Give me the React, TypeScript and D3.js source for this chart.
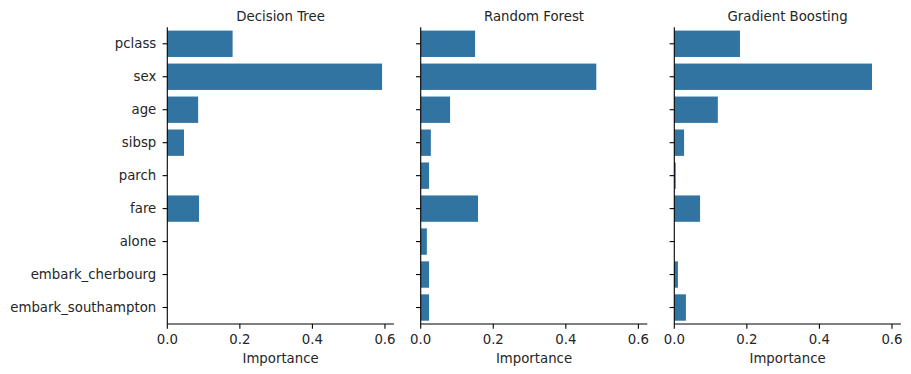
import React from "react";
import * as d3 from "d3";

const features = [
  "pclass",
  "sex",
  "age",
  "sibsp",
  "parch",
  "fare",
  "alone",
  "embark_cherbourg",
  "embark_southampton",
];

const modelNames = ["Decision Tree", "Random Forest", "Gradient Boosting"];

const decisionTree = [0.18, 0.592, 0.085, 0.046, 0.0, 0.0875, 0.0, 0.0, 0.0];
const randomForest = [0.15, 0.484, 0.081, 0.028, 0.023, 0.158, 0.017, 0.023, 0.023];
const gradientBoosting = [0.181, 0.545, 0.12, 0.027, 0.004, 0.071, 0.0, 0.01, 0.032];

const xTicks = [0, 0.2, 0.4, 0.6];
const xLabel = "Importance";

const seriesList = [decisionTree, randomForest, gradientBoosting];

const W = 911;
const H = 374;
const panelLefts = [167.3, 420.7, 674.3];
const panelWidth = 226.6;
const top = 27.3;
const bottom = 324;
const xMax = 0.6246;
const barColor = "#3274a1";
const textColor = "#262626";
const font = "DejaVu Sans, sans-serif";
const fs = 13.3;

export default function App() {
  const y = d3
    .scaleBand<string>()
    .domain(features)
    .range([top, bottom])
    .paddingInner(0.2)
    .paddingOuter(0.1);

  return (
    <svg
      width={W}
      height={H}
      style={{ position: "absolute", left: 0, top: 0, background: "#fff" }}
      fontFamily={font}
    >
      <rect x={0} y={0} width={W} height={H} fill="#fff" />
      {seriesList.map((vals, pi) => {
        const left = panelLefts[pi];
        const x = d3.scaleLinear().domain([0, xMax]).range([left, left + panelWidth]);
        return (
          <g key={pi}>
            {vals.map((v, i) =>
              v > 0 ? (
                <rect
                  key={i}
                  x={x(0)}
                  y={y(features[i])!}
                  width={x(v) - x(0)}
                  height={y.bandwidth()}
                  fill={barColor}
                />
              ) : null
            )}
            <text
              x={left + panelWidth / 2}
              y={16}
              textAnchor="middle"
              dominantBaseline="central"
              fontSize={fs}
              fill={textColor}
            >
              {modelNames[pi]}
            </text>
            <line x1={left} x2={left} y1={top} y2={bottom} stroke="#000" strokeWidth={1.1} />
            <line
              x1={left}
              x2={left + panelWidth}
              y1={bottom}
              y2={bottom}
              stroke="#000"
              strokeWidth={1.1}
            />
            {features.map((f) => {
              const cy = y(f)! + y.bandwidth() / 2;
              return (
                <g key={f}>
                  <line x1={left - 4.7} x2={left} y1={cy} y2={cy} stroke="#000" strokeWidth={1.1} />
                  {pi === 0 ? (
                    <text
                      x={left - 11}
                      y={cy}
                      textAnchor="end"
                      dominantBaseline="central"
                      fontSize={fs}
                      fill={textColor}
                    >
                      {f}
                    </text>
                  ) : null}
                </g>
              );
            })}
            {xTicks.map((t) => (
              <g key={t}>
                <line x1={x(t)} x2={x(t)} y1={bottom} y2={bottom + 4.7} stroke="#000" strokeWidth={1.1} />
                <text
                  x={x(t)}
                  y={339.5}
                  textAnchor="middle"
                  dominantBaseline="central"
                  fontSize={fs}
                  fill={textColor}
                >
                  {d3.format(".1f")(t)}
                </text>
              </g>
            ))}
            <text
              x={left + panelWidth / 2}
              y={358}
              textAnchor="middle"
              dominantBaseline="central"
              fontSize={fs}
              fill={textColor}
            >
              {xLabel}
            </text>
          </g>
        );
      })}
    </svg>
  );
}
